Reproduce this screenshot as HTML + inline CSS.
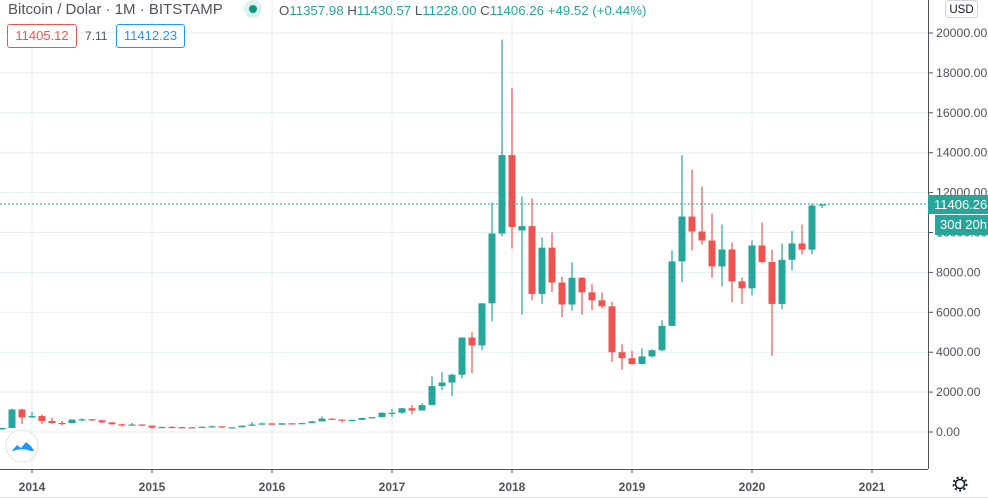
<!DOCTYPE html>
<html><head><meta charset="utf-8"><style>
body{margin:0;background:#fff;width:988px;height:500px;overflow:hidden;font-family:"Liberation Sans",sans-serif;}
svg{position:absolute;left:0;top:0}
.hdr{position:absolute;left:8px;top:1px;font-size:15px;color:#50535e;white-space:nowrap}
.ohlc{position:absolute;left:279px;top:3px;font-size:13.25px;color:#26a69a;white-space:nowrap}
.ohlc b{font-weight:normal;color:#50535e}
.box{position:absolute;top:24px;line-height:22px;font-size:13px;border-radius:3px;background:#fff;text-align:center;box-sizing:border-box;height:24px}
</style></head><body>
<svg id="s" width="988" height="500" xmlns="http://www.w3.org/2000/svg"></svg>
<div class="hdr">Bitcoin / Dolar · 1M · BITSTAMP</div>
<div style="position:absolute;left:244px;top:0px;width:18px;height:18px;border-radius:50%;background:#dff1ef"></div>
<div style="position:absolute;left:249px;top:5px;width:8px;height:8px;border-radius:50%;background:#089981"></div>
<div class="ohlc"><b>O</b>11357.98 <b>H</b>11430.57 <b>L</b>11228.00 <b>C</b>11406.26 +49.52 (+0.44%)</div>
<div class="box" style="left:7px;width:70px;border:1px solid #ef5350;color:#ef5350">11405.12</div>
<div style="position:absolute;left:85px;top:29px;font-size:12px;color:#50535e">7.11</div>
<div class="box" style="left:116px;width:69px;border:1px solid #2196f3;color:#2196f3">11412.23</div>
<script>
const D=[[128,210,118,204],[204,1163,200,1129],[1129,1163,400,732],
[732,1000,690,800],[800,870,400,550],[550,720,420,450],[450,550,340,445],[445,630,430,625],[625,680,540,640],[640,660,560,585],[585,600,440,480],[480,500,370,385],[385,415,275,338],[338,455,320,375],[375,385,300,318],
[318,320,150,217],[217,270,200,254],[254,300,240,244],[244,260,210,236],[236,250,225,230],[230,270,220,263],[263,318,250,284],[284,285,200,230],[230,245,225,236],[236,335,235,314],[314,500,300,377],[377,465,350,430],
[430,465,350,368],[368,440,360,437],[437,440,400,416],[416,470,410,448],[448,550,435,531],[531,780,530,670],[670,690,600,624],[624,625,480,575],[575,620,570,608],[608,720,605,700],[700,750,690,745],[745,975,745,964],
[964,1150,750,966],[966,1200,915,1190],[1190,1350,890,1080],[1080,1450,1080,1350],[1350,2790,1350,2300],[2300,3000,2100,2480],[2480,2920,1800,2870],[2870,4750,2680,4735],[4735,5000,2950,4340],[4340,6450,4100,6450],[6450,11500,5550,9950],[9950,19666,9800,13880],
[13880,17250,9200,10270],[10100,11800,5880,10320],[10320,11700,6600,6920],[6920,9760,6430,9240],[9240,10000,7000,7490],[7490,7780,5770,6390],[6390,8500,6080,7730],[7730,7760,5880,7000],[7000,7400,6100,6600],[6600,7000,6200,6300],[6300,6530,3500,4000],[4000,4400,3130,3700],
[3700,4070,3350,3410],[3410,4200,3380,3790],[3790,4150,3730,4100],[4100,5600,4050,5320],[5320,9100,5300,8550],[8550,13880,7500,10800],[10800,13150,9100,10050],[10050,12300,9400,9600],[9600,10950,7730,8300],[8300,10400,7300,9150],[9150,9500,6500,7550],[7550,7750,6430,7200],
[7200,9600,6850,9350],[9350,10500,8450,8520],[8520,9150,3800,6420],[6420,9450,6150,8630],[8630,10080,8100,9450],[9450,10400,8900,9140],[9140,11450,8900,11350],[11357.98,11430.57,11228,11406.26]];
const Y=v=>432-v*0.01995;
let h='';
for(let i=0;i<=10;i++){const y=Y(i*2000);h+=`<line x1="0" x2="928" y1="${y}" y2="${y}" stroke="#e4edf3"/>`;}
const yrs=['2014','2015','2016','2017','2018','2019','2020','2021'];
yrs.forEach((t,i)=>{const x=32+120*i;h+=`<line x1="${x}" x2="${x}" y1="0" y2="469" stroke="#e4edf3"/><line x1="${x}" x2="${x}" y1="469" y2="473" stroke="#50535e"/><text x="${x}" y="491" text-anchor="middle" font-size="12" font-weight="bold" fill="#50535e">${t}</text>`;});
D.forEach((c,i)=>{const x=2+10*i;const [o,hi,l,cl]=c;const col=cl>=o?'#26a69a':'#ef5350';
const t=Y(Math.max(o,cl)),b=Y(Math.min(o,cl));
h+=`<line x1="${x}" x2="${x}" y1="${Y(hi)}" y2="${Y(l)}" stroke="${col}" stroke-width="1.2"/><rect x="${x-3.5}" y="${t}" width="7" height="${Math.max(b-t,1.2)}" fill="${col}"/>`;});
h+=`<line x1="0" x2="928" y1="204" y2="204" stroke="#26a69a" stroke-dasharray="2,2"/>`;
h+=`<rect x="929" y="0" width="59" height="500" fill="#fff"/><line x1="928.5" x2="928.5" y1="0" y2="469" stroke="#50535e"/><line x1="0" x2="928" y1="469.5" y2="469.5" stroke="#50535e"/><line x1="0" x2="988" y1="497.5" y2="497.5" stroke="#e0e3eb"/>`;
for(let i=0;i<=10;i++){const y=Y(i*2000);h+=`<line x1="929" x2="933" y1="${y}" y2="${y}" stroke="#50535e"/><text x="936" y="${y+4}" font-size="12.3" fill="#50535e">${(i*2000).toFixed(2)}</text>`;}
h+=`<rect x="928" y="195" width="60" height="19" fill="#26a69a"/><text x="934" y="209" font-size="13" fill="#fff">11406.26</text>`;
h+=`<rect x="935" y="215" width="53" height="20" fill="#26a69a"/><text x="940" y="229" font-size="13" fill="#fff">30d 20h</text>`;
h+=`<rect x="945.5" y="0.5" width="32" height="17" rx="3" fill="#fff" stroke="#d1d4dc"/><text x="961.5" y="13" font-size="11.5" text-anchor="middle" fill="#131722">USD</text>`;
h+=`<circle cx="960" cy="484" r="4.5" fill="none" stroke="#131722" stroke-width="1.5"/><circle cx="960" cy="484" r="6.5" fill="none" stroke="#131722" stroke-width="2" stroke-dasharray="2,2.5"/>`;
h+=`<circle cx="22" cy="446" r="16" fill="#fff" stroke="#e0e3eb"/><path d="M12 451 l5-6 4 3 5-6 5 4 3 5 z" fill="#2196f3"/><path d="M13 452 q9 -4 18 0" stroke="#fff" fill="none" stroke-width="1.5"/>`;
document.getElementById('s').innerHTML=h;
</script>
</body></html>
